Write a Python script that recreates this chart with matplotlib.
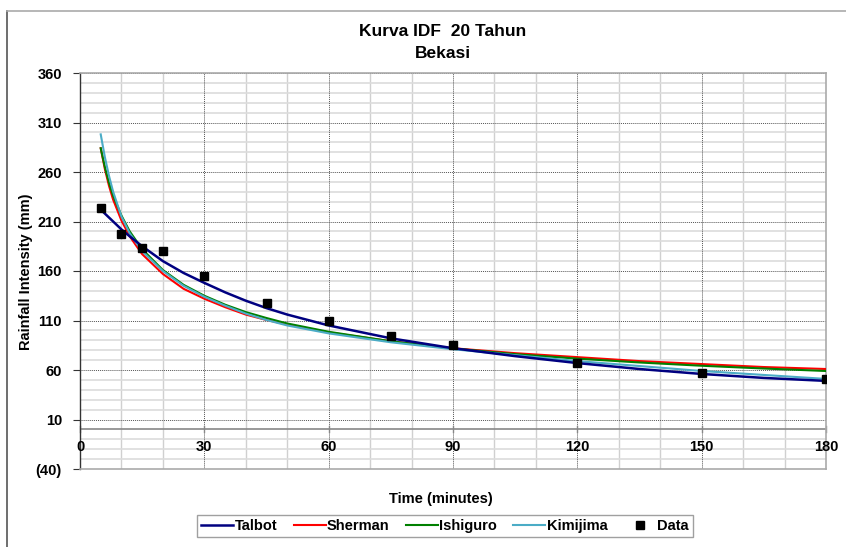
import numpy as np
import matplotlib.pyplot as plt
from matplotlib.lines import Line2D

plt.rcParams['font.family'] = ['Liberation Sans', 'DejaVu Sans']
plt.rcParams['font.weight'] = 'bold'

# observed data
t_data = [5, 10, 15, 20, 30, 45, 60, 75, 90, 120, 150, 180]
i_data = [224, 197, 183, 180, 155, 128, 110, 94, 85, 67, 57, 51]

# fitted curves
t_curve = [5, 6, 7, 8, 10, 12, 15, 20, 25, 30, 35, 40, 45, 50, 60, 75, 90, 105, 120, 135, 150, 165, 180]
talbot = [222, 218, 214, 210, 202, 195, 185, 170, 158, 148, 138.5, 130, 122.5, 116, 105, 92, 82, 74, 67, 61, 56, 52, 49]
sherman = [284, 263, 246, 232, 211, 195, 177, 157, 142, 132, 123.5, 116, 110.5, 106, 98, 89, 82, 77, 73, 69, 66, 63, 61]
ishiguro = [284, 265, 249, 236, 216, 200, 182, 161, 146, 135, 126, 118.5, 112.5, 107, 98.6, 89, 81.8, 76, 71.5, 67.6, 64.3, 61.5, 59]
kimijima = [298, 275, 256, 240, 215, 198, 180, 160, 145, 134, 125, 117, 110.5, 105, 97, 88, 81, 75, 69, 64, 59, 55, 51]

fig = plt.figure(figsize=(8.46, 5.47), dpi=100)
ax = fig.add_axes([80 / 846, 1 - 469 / 547, 746 / 846, 396 / 547])

# outer chart frame
fig.add_artist(Line2D([7 / 846, 7 / 846], [0, 1 - 11 / 547], transform=fig.transFigure, color='#555555', lw=1.2))
fig.add_artist(Line2D([7 / 846, 1], [1 - 11 / 547, 1 - 11 / 547], transform=fig.transFigure, color='#aaaaaa', lw=1.2))

ax.set_xlim(0, 180)
ax.set_ylim(-40, 360)

# grid
for x in range(10, 181, 10):
    if x % 30 == 0:
        ax.axvline(x, color='#555555', lw=0.7, ls=(0, (1, 1)), zorder=1)
    else:
        ax.axvline(x, color='#d0d0d0', lw=1.0, zorder=0)
for y in range(-30, 361, 10):
    if y == 0:
        continue
    if (y - 10) % 50 == 0:
        ax.axhline(y, color='#555555', lw=0.7, ls=(0, (1, 1)), zorder=1)
    else:
        ax.axhline(y, color='#dcdcdc', lw=1.2, zorder=0)
ax.axhline(0, color='#888888', lw=1.2, zorder=2)

ax.plot(t_curve, talbot, color='#000080', lw=1.8, label='Talbot', zorder=5)
ax.plot(t_curve, sherman, color='#ff0000', lw=1.5, label='Sherman', zorder=3)
ax.plot(t_curve, ishiguro, color='#008000', lw=1.5, label='Ishiguro', zorder=4)
ax.plot(t_curve, kimijima, color='#4bacc6', lw=1.5, label='Kimijima', zorder=4)
ax.plot(t_data, i_data, ls='none', marker='s', ms=5.5, color='black', label='Data', zorder=6)

yt = list(range(-40, 361, 50))
ax.set_yticks(yt)
ax.set_yticklabels(['(40)' if v < 0 else str(v) for v in yt], fontsize=10.5, fontweight='bold')
ax.set_xticks([])
for x in range(0, 181, 30):
    ax.text(x, -11, str(x), ha='center', va='top', fontsize=10.5, fontweight='bold')
    ax.plot([x, x], [-3, 3], color='#888888', lw=1, zorder=2, clip_on=False)
ax.tick_params(axis='y', length=5, color='#333333', pad=8)

ax.spines['left'].set_color('#333333')
ax.spines['left'].set_linewidth(1.0)
for s in ['top', 'right', 'bottom']:
    ax.spines[s].set_color('#aaaaaa')
    ax.spines[s].set_linewidth(1.2)

fig.text(443 / 846, 1 - 32 / 547, 'Kurva IDF  20 Tahun', ha='center', va='center', fontsize=12.5, fontweight='bold')
fig.text(443 / 846, 1 - 53 / 547, 'Bekasi', ha='center', va='center', fontsize=12.5, fontweight='bold')
fig.text(26 / 846, 1 - 272 / 547, 'Rainfall Intensity (mm)', rotation=90, ha='center', va='center',
         fontsize=10.5, fontweight='bold')
fig.text(441 / 846, 1 - 499 / 547, 'Time (minutes)', ha='center', va='center', fontsize=10.5, fontweight='bold')

leg = fig.legend(loc='center', bbox_to_anchor=(445 / 846, 1 - 526 / 547), ncol=5, fontsize=10.5,
                 frameon=True, fancybox=False, edgecolor='#888888', handlelength=2.2,
                 handletextpad=0.1, columnspacing=1.1, borderpad=0.3)
leg.get_frame().set_linewidth(1.0)

fig.savefig('out.png', dpi=100)
